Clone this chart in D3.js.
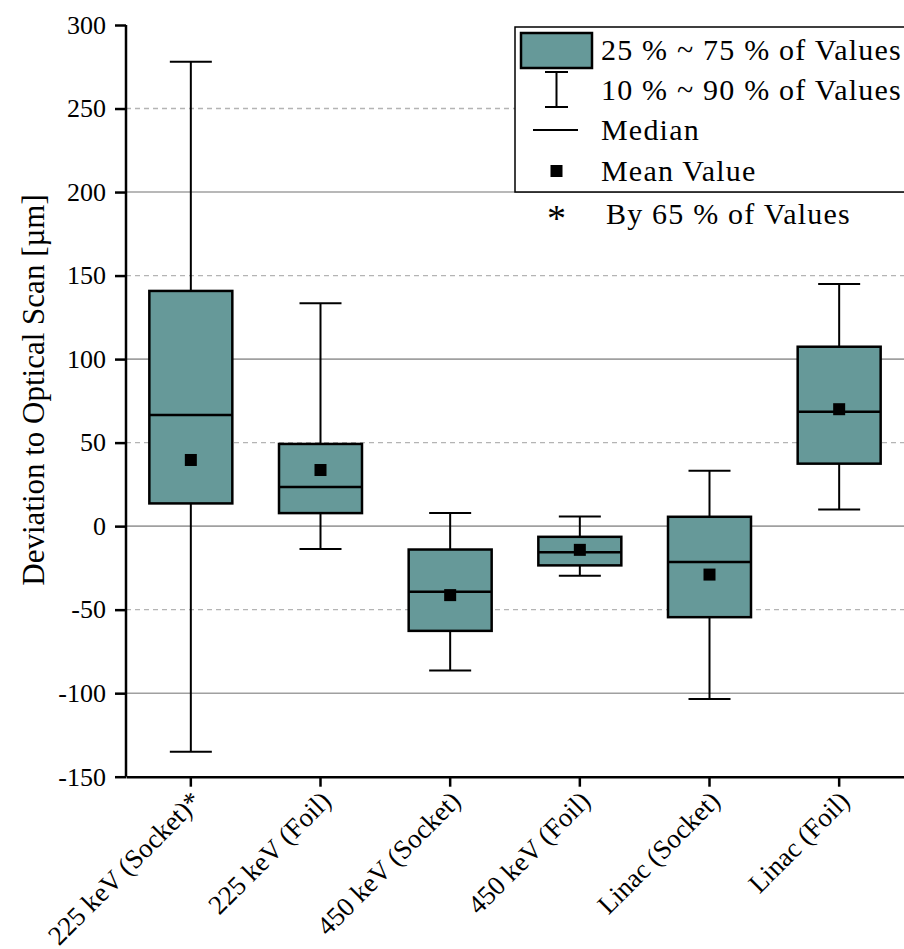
<!DOCTYPE html>
<html>
<head>
<meta charset="utf-8">
<script src="https://cdn.jsdelivr.net/npm/d3@7"></script>
<style>
  body { margin: 0; background: #fff; }
  svg { display: block; font-family: "Liberation Serif", "Times New Roman", serif; }
</style>
</head>
<body>
<svg id="chart" width="904" height="949"></svg>
<script>
// values
var categories = ["225 keV (Socket)*", "225 keV (Foil)", "450 keV (Socket)", "450 keV (Foil)", "Linac (Socket)", "Linac (Foil)"];
var p10    = [-135, -13.7, -86.4, -29.7, -103.5, 10];
var q1     = [13.6, 7.8, -62.7, -23.5, -54.5, 37.4];
var median = [66.5, 23.4, -39.3, -15.6, -21.5, 68.5];
var q3     = [140.8, 49.2, -14, -6.4, 5.6, 107.4];
var p90    = [278, 133.4, 7.8, 5.8, 33.2, 145];
var mean   = [39.6, 33.6, -41.3, -14.2, -29, 70];

var yTicks = [-150, -100, -50, 0, 50, 100, 150, 200, 250, 300];
var legendLabels = ["25 % ~ 75 % of Values", "10 % ~ 90 % of Values", "Median", "Mean Value", "By 65 % of Values"];

var boxColor = "#669999";
var serif = "'Liberation Serif', 'Times New Roman', serif";

var svg = d3.select("#chart");

var x = d3.scaleBand().domain(categories).range([126, 904]).padding(0);
var y = d3.scaleLinear().domain([-150, 300]).range([776.7, 25]);

var rows = categories.map((c, i) => ({
    name: c, p10: p10[i], q1: q1[i], median: median[i], q3: q3[i], p90: p90[i], mean: mean[i]
}));

var boxW = x.bandwidth() * 0.64,
    capW = 42;

// grid lines
svg.append("g")
    .selectAll("line")
    .data(yTicks.filter(d => d > -150 && d < 300))
    .join("line")
    .attr("x1", 126).attr("x2", 904)
    .attr("y1", d => y(d)).attr("y2", d => y(d))
    .attr("stroke", d => d % 100 === 0 ? "#a0a0a0" : "#b4b4b4")
    .attr("stroke-width", d => d % 100 === 0 ? 1.6 : 1.3)
    .attr("stroke-dasharray", d => d % 100 === 0 ? null : "5,4");

// whiskers
var g = svg.append("g");
rows.forEach(function(d) {
    var cx = x(d.name) + x.bandwidth() / 2;
    g.append("line")
        .attr("x1", cx).attr("x2", cx)
        .attr("y1", y(d.p90)).attr("y2", y(d.p10))
        .attr("stroke", "#000").attr("stroke-width", 2);
    [d.p90, d.p10].forEach(function(v) {
        g.append("line")
            .attr("x1", cx - capW / 2).attr("x2", cx + capW / 2)
            .attr("y1", y(v)).attr("y2", y(v))
            .attr("stroke", "#000").attr("stroke-width", 2);
    });
});

// boxes
g.selectAll("rect.box")
    .data(rows)
    .join("rect")
    .attr("class", "box")
    .attr("x", d => x(d.name) + (x.bandwidth() - boxW) / 2)
    .attr("width", boxW)
    .attr("y", d => y(d.q3))
    .attr("height", d => y(d.q1) - y(d.q3))
    .attr("fill", boxColor)
    .attr("stroke", "#000")
    .attr("stroke-width", 2.5);

g.selectAll("line.median")
    .data(rows)
    .join("line")
    .attr("class", "median")
    .attr("x1", d => x(d.name) + (x.bandwidth() - boxW) / 2)
    .attr("x2", d => x(d.name) + (x.bandwidth() + boxW) / 2)
    .attr("y1", d => y(d.median)).attr("y2", d => y(d.median))
    .attr("stroke", "#000").attr("stroke-width", 2.5);

g.selectAll("rect.mean")
    .data(rows)
    .join("rect")
    .attr("class", "mean")
    .attr("x", d => x(d.name) + x.bandwidth() / 2 - 6)
    .attr("y", d => y(d.mean) - 6)
    .attr("width", 12).attr("height", 12)
    .attr("fill", "#000");

// axes
var yAxis = svg.append("g")
    .attr("transform", "translate(126,0)")
    .call(d3.axisLeft(y).tickValues(yTicks).tickSize(11).tickPadding(9).tickFormat(d => String(d)))
    .attr("font-family", serif);
yAxis.select(".domain").attr("d", `M0,${y(300)}V${y(-150)}`).attr("stroke-width", 2.5);
yAxis.selectAll(".tick line").attr("stroke-width", 2.5);
yAxis.selectAll(".tick text").style("font-size", "26px").attr("fill", "#000");

var xAxis = svg.append("g")
    .attr("transform", `translate(0,${y(-150)})`)
    .call(d3.axisBottom(x).tickSize(10).tickSizeOuter(0))
    .attr("font-family", serif);
xAxis.select(".domain").attr("stroke-width", 2.5);
xAxis.selectAll(".tick line").attr("stroke-width", 2.5);
xAxis.selectAll(".tick text")
    .style("font-size", "27px")
    .attr("fill", "#000")
    .attr("text-anchor", "end")
    .attr("dy", null)
    .attr("y", 0)
    .attr("transform", "translate(12,26) rotate(-45)");

svg.append("text")
    .attr("transform", "translate(44,390) rotate(-90)")
    .attr("text-anchor", "middle")
    .style("font-size", "31px")
    .text("Deviation to Optical Scan [µm]");

// legend
var leg = svg.append("g");
leg.append("rect")
    .attr("x", 515).attr("y", 27)
    .attr("width", 420).attr("height", 165)
    .attr("fill", "#fff").attr("stroke", "#000").attr("stroke-width", 1.5);

var rowY = [50, 90, 130, 171, 214];
var symX = 556.5;
leg.append("rect")
    .attr("x", 521).attr("y", 33).attr("width", 71).attr("height", 35)
    .attr("fill", boxColor).attr("stroke", "#000").attr("stroke-width", 2.5);
leg.append("path")
    .attr("d", `M${symX - 11.5},${rowY[1] - 18}H${symX + 11.5}M${symX},${rowY[1] - 18}V${rowY[1] + 17}M${symX - 11.5},${rowY[1] + 17}H${symX + 11.5}`)
    .attr("fill", "none").attr("stroke", "#000").attr("stroke-width", 2);
leg.append("line")
    .attr("x1", 533).attr("x2", 578).attr("y1", rowY[2]).attr("y2", rowY[2])
    .attr("stroke", "#000").attr("stroke-width", 2);
leg.append("rect")
    .attr("x", symX - 6).attr("y", rowY[3] - 6).attr("width", 12).attr("height", 12)
    .attr("fill", "#000");
leg.append("text")
    .attr("x", symX).attr("y", rowY[4] + 17)
    .attr("text-anchor", "middle")
    .style("font-size", "38px")
    .text("*");

leg.selectAll("text.lab")
    .data(legendLabels)
    .join("text")
    .attr("class", "lab")
    .attr("x", (d, i) => i === 4 ? 606 : 601)
    .attr("y", (d, i) => rowY[i] + 10)
    .style("font-size", "30px")
    .style("letter-spacing", "1.2px")
    .text(d => d);
</script>
</body>
</html>
